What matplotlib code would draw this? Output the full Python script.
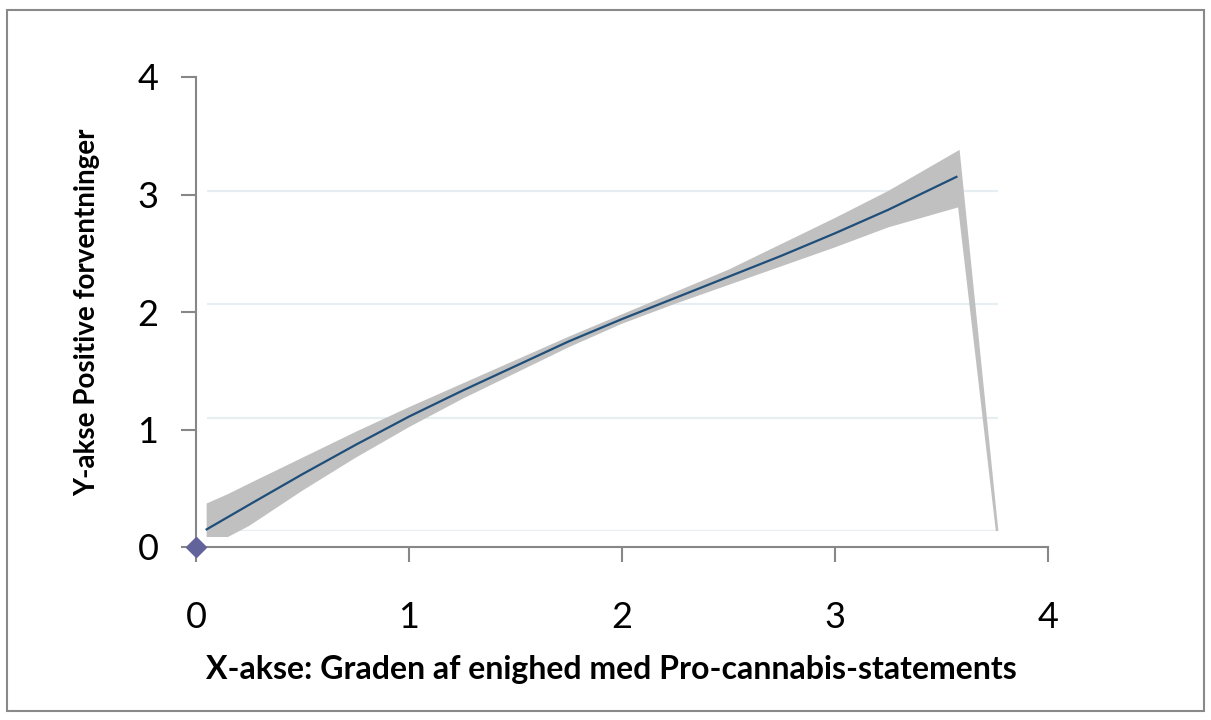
import numpy as np
import matplotlib
matplotlib.use('Agg')
import matplotlib.pyplot as plt
from matplotlib.patches import Rectangle

# %% Data
line_x = [0.05, 0.25, 0.5, 0.75, 1.0, 1.25, 1.5, 1.75, 2.0, 2.25, 2.5, 2.75, 3.0, 3.25, 3.57]
line_y = [0.15, 0.36, 0.62, 0.87, 1.11, 1.33, 1.54, 1.75, 1.94, 2.12, 2.30, 2.48, 2.67, 2.87, 3.15]

upper_x = [0.05, 0.15, 0.25, 0.5, 0.75, 1.0, 1.25, 1.5, 1.75, 2.0, 2.25, 2.5, 2.75, 3.0, 3.25, 3.585, 3.767]
upper_y = [0.37, 0.45, 0.54, 0.76, 0.98, 1.19, 1.39, 1.59, 1.79, 1.98, 2.17, 2.36, 2.58, 2.80, 3.03, 3.38, 0.136]
lower_x = [0.05, 0.15, 0.25, 0.5, 0.75, 1.0, 1.25, 1.5, 1.75, 2.0, 2.25, 2.5, 2.75, 3.0, 3.25, 3.578, 3.755]
lower_y = [0.085, 0.085, 0.18, 0.48, 0.76, 1.02, 1.26, 1.48, 1.70, 1.90, 2.07, 2.23, 2.39, 2.55, 2.72, 2.89, 0.136]

point_x = [0]
point_y = [0]

ticks = [0, 1, 2, 3, 4]
grid_ticks = [0, 1, 2, 3]

# %% Figure
W, H = 1211, 720
plt.rcParams['font.family'] = ['Lato', 'DejaVu Sans']
fig = plt.figure(figsize=(W / 100, H / 100), dpi=100)

# gridlines belong to a second, slightly smaller plot area (as in the original)
ax_grid = fig.add_axes([207 / W, 1 - 531 / H, (998 - 207) / W, (531 - 77) / H])
ax_grid.set_ylim(0, 4)
ax_grid.set_yticks(grid_ticks)
ax_grid.grid(axis='y', color='#e6eef2', linewidth=1.6)
ax_grid.tick_params(left=False, bottom=False, labelleft=False, labelbottom=False)
ax_grid.set_xticks([])
for s in ax_grid.spines.values():
    s.set_visible(False)

ax = fig.add_axes([196 / W, 1 - 547 / H, 852 / W, 470 / H])
ax.patch.set_alpha(0)
ax.set_xlim(0, 4)
ax.set_ylim(0, 4)

band_x = upper_x + lower_x[::-1]
band_y = upper_y + lower_y[::-1]
ax.fill(band_x, band_y, color='#c0c0c0', linewidth=0, zorder=2)
ax.plot(line_x, line_y, color='#1f4e79', linewidth=1.6, zorder=3)
ax.plot(point_x, point_y, 'D', color='#63639c', markersize=10, clip_on=False, zorder=4)

for side in ['top', 'right']:
    ax.spines[side].set_visible(False)
for side in ['left', 'bottom']:
    ax.spines[side].set_color('#878787')
    ax.spines[side].set_linewidth(1.5)

ax.set_xticks(ticks)
ax.set_yticks(ticks)
ax.tick_params(axis='both', direction='out', length=11, width=1.5, color='#878787',
               labelsize=26)
ax.tick_params(axis='y', pad=16)
ax.tick_params(axis='x', pad=28)

ax.set_xlabel('X-akse: Graden af enighed med Pro-cannabis-statements',
              fontsize=23, fontweight='bold', labelpad=15)
ax.xaxis.label.set_x(0.487)
ax.set_ylabel('Y-akse Positive forventninger', fontsize=20, fontweight='bold',
              labelpad=27)

# outer chart border
fig.patches.append(Rectangle((7 / W, 1 - 711 / H), (1204 - 7) / W, (711 - 10) / H,
                             transform=fig.transFigure, fill=False,
                             edgecolor='#898989', linewidth=1.5))

fig.savefig('out.png', dpi=100)
